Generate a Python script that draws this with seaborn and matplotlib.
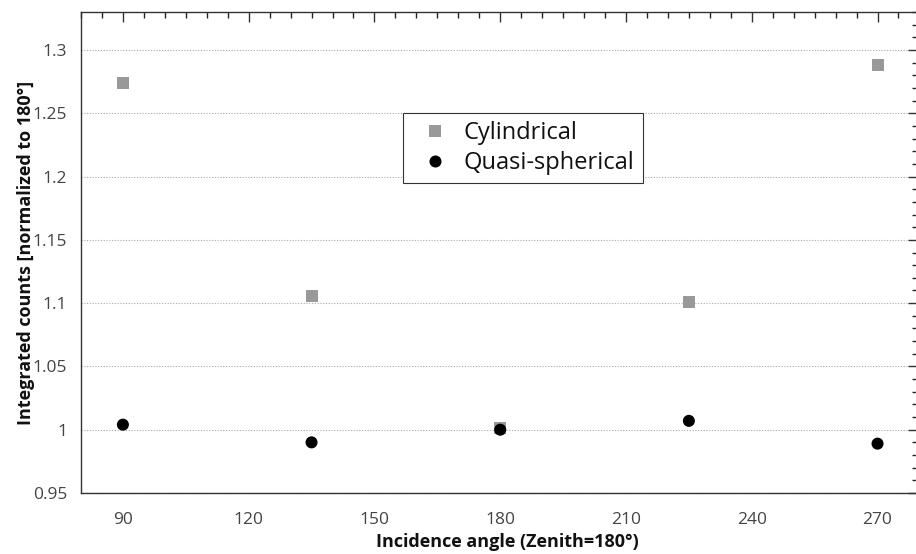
import numpy as np
import pandas as pd
import matplotlib
matplotlib.use("Agg")
import matplotlib.pyplot as plt
import seaborn as sns
from matplotlib.ticker import MultipleLocator, FixedLocator

angles = [90, 135, 180, 225, 270]
cylindrical = [1.274, 1.106, 1.001, 1.101, 1.288]
quasi_spherical = [1.004, 0.990, 1.000, 1.007, 0.989]
series_names = ["Cylindrical", "Quasi-spherical"]
x_ticks = [90, 120, 150, 180, 210, 240, 270]
y_ticks = [0.95, 1.0, 1.05, 1.1, 1.15, 1.2, 1.25, 1.3]
y_tick_labels = ["0.95", "1", "1.05", "1.1", "1.15", "1.2", "1.25", "1.3"]

sns.set_style("white")
plt.rcParams['font.family'] = ['Open Sans', 'DejaVu Sans']

df = pd.DataFrame({
    "angle": angles * 2,
    "value": cylindrical + quasi_spherical,
    "series": [series_names[0]] * len(angles) + [series_names[1]] * len(angles),
})

fig = plt.figure(figsize=(9.16, 5.54), dpi=100)
ax = fig.add_axes([0.0884, 0.1101, 0.914, 0.8682])

sns.scatterplot(data=df, x="angle", y="value", hue="series", style="series",
                palette={series_names[0]: "#999999", series_names[1]: "#000000"},
                markers={series_names[0]: "s", series_names[1]: "o"},
                s=75, linewidth=0, ax=ax, zorder=3)

ax.set_xlim(80, 279.7)
ax.set_ylim(0.95, 1.33)
ax.xaxis.set_major_locator(FixedLocator(x_ticks))
ax.xaxis.set_minor_locator(MultipleLocator(5))
ax.yaxis.set_major_locator(FixedLocator(y_ticks))
ax.set_yticklabels(y_tick_labels)
ax.yaxis.set_minor_locator(MultipleLocator(0.01))

ax.yaxis.grid(True, which="major", linestyle=(0, (1, 1.5)), color="#aaaaaa", linewidth=0.8)
ax.xaxis.grid(False)

for sp in ax.spines.values():
    sp.set_color("#333333")
    sp.set_linewidth(1.0)

ax.tick_params(axis="both", which="major", labelsize=12.5, labelcolor="#444444", color="#333333")
ax.tick_params(axis="x", which="major", direction="out", length=7, width=1, top=True, pad=7)
ax.tick_params(axis="x", which="minor", direction="out", length=4, width=1, top=True)
ax.tick_params(axis="y", which="major", direction="out", length=7, width=1, right=True, pad=3)
ax.tick_params(axis="y", which="minor", direction="out", length=4, width=1, right=True)
# top and right ticks point inward
for t in ax.xaxis.get_major_ticks() + ax.xaxis.get_minor_ticks():
    t.tick2line.set_marker(3)
for t in ax.yaxis.get_major_ticks() + ax.yaxis.get_minor_ticks():
    t.tick2line.set_marker(0)

ax.set_xlabel("Incidence angle (Zenith=180°)", fontsize=13, fontweight="bold", color="#111111", labelpad=3)
ax.set_ylabel("Integrated counts [normalized to 180°]", fontsize=13, fontweight="bold", color="#111111", labelpad=-2)
ax.xaxis.label.set_x(0.509)

leg = ax.legend(loc="upper left", bbox_to_anchor=(0.385, 0.790), fontsize=17, frameon=True,
                fancybox=False, edgecolor="#333333", framealpha=1, borderpad=0.35,
                handlelength=2.0, handletextpad=0.2, labelspacing=0.25, markerscale=1.0,
                borderaxespad=0)
leg.get_frame().set_linewidth(0.8)
for text in leg.get_texts():
    text.set_color("#111111")

fig.savefig("out.png", dpi=100)
